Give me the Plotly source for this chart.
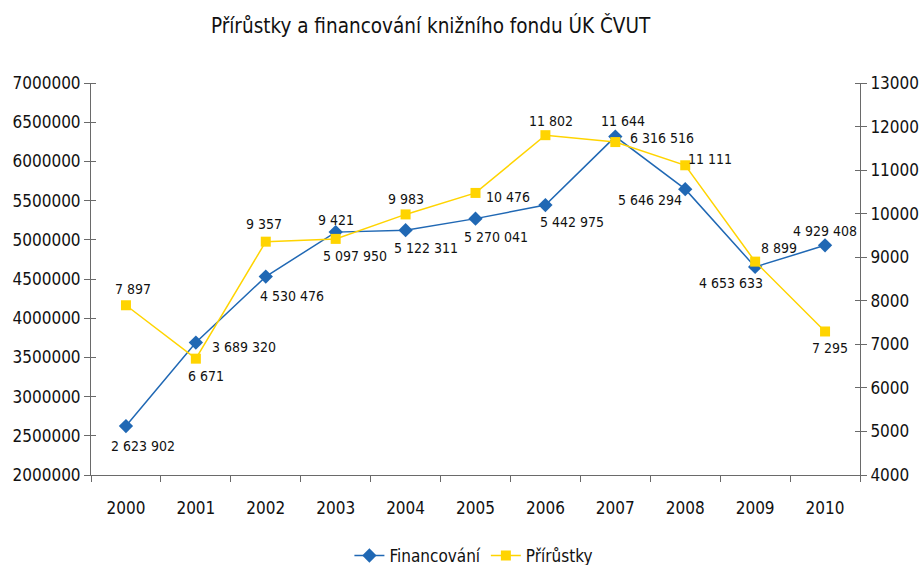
import plotly.graph_objects as go

years = ["2000", "2001", "2002", "2003", "2004", "2005", "2006", "2007", "2008", "2009", "2010"]
financovani = [2623902, 3689320, 4530476, 5097950, 5122311, 5270041, 5442975, 6316516, 5646294, 4653633, 4929408]
prirustky = [7897, 6671, 9357, 9421, 9983, 10476, 11802, 11644, 11111, 8899, 7295]

# label offsets (pixels, from marker to label centre; +dy = downwards)
fin_dx = [17, 48, 26, 19, 20, 20, 27, 47, -35, -24, 0]
fin_dy = [20, 4, 19, 24, 18, 18, 17, 1, 11, 16, -14]
pri_dx = [7, 10, -2, 0, 0, 32, 6, 8, 25, 24, 5]
pri_dy = [-16, 17, -18, -19, -15, 4, -14, -21, -6, -14, 17]

def fmt(v):
    return f"{v:,}".replace(",", " ")

FONT = "Liberation Sans Narrow, DejaVu Sans Condensed, Arial Narrow, sans-serif"
BLUE = "#2068b4"
YELLOW = "#ffd400"
AXIS = "#6a6a6a"

fig = go.Figure()
fig.add_trace(go.Scatter(
    x=years, y=financovani, name="Financování", mode="lines+markers",
    line=dict(color=BLUE, width=1.5),
    marker=dict(symbol="diamond", size=11, color=BLUE),
    yaxis="y", cliponaxis=False,
))
fig.add_trace(go.Scatter(
    x=years, y=prirustky, name="Přírůstky", mode="lines+markers",
    line=dict(color=YELLOW, width=1.5),
    marker=dict(symbol="square", size=10, color=YELLOW),
    yaxis="y2", cliponaxis=False,
))

# annotations reference categories by their index on the category axis
for i, (v, dx, dy) in enumerate(zip(financovani, fin_dx, fin_dy)):
    fig.add_annotation(x=i, y=v, xref="x", yref="y", text=fmt(v), showarrow=False,
                       xshift=dx, yshift=-dy, font=dict(size=14, color="#111111", family=FONT))
for i, (v, dx, dy) in enumerate(zip(prirustky, pri_dx, pri_dy)):
    fig.add_annotation(x=i, y=v, xref="x", yref="y2", text=fmt(v), showarrow=False,
                       xshift=dx, yshift=-dy, font=dict(size=14, color="#111111", family=FONT))

axis_common = dict(showline=True, linecolor=AXIS, linewidth=1,
                   ticks="outside", ticklen=6, tickcolor=AXIS,
                   showgrid=False, zeroline=False, tickfont=dict(size=17))

fig.update_layout(
    width=922, height=565,
    margin=dict(l=91, r=62, t=83, b=90, autoexpand=False),
    paper_bgcolor="white", plot_bgcolor="white",
    font=dict(family=FONT, size=16, color="#111111"),
    title=dict(text="Přírůstky a financování knižního fondu ÚK ČVUT",
               x=0.467, xanchor="center", y=0.955, yanchor="middle",
               font=dict(size=20.5, family=FONT, color="#111111")),
    xaxis=dict(type="category", categoryorder="array", categoryarray=years,
               range=[-0.5, len(years) - 0.5], autorange=False,
               tickson="boundaries", ticklabelstandoff=18, **axis_common),
    yaxis=dict(range=[2000000, 7000000], dtick=500000, tickformat="d",
               minor=dict(ticks="inside", dtick=500000, ticklen=5, tickcolor=AXIS),
               **axis_common),
    yaxis2=dict(range=[4000, 13000], dtick=1000, tickformat="d", overlaying="y", side="right",
                minor=dict(ticks="inside", dtick=1000, ticklen=5, tickcolor=AXIS),
                **axis_common),
    legend=dict(orientation="h", x=0.514, xanchor="center", xref="container",
                y=0.016, yanchor="middle", yref="container",
                font=dict(size=17)),
    showlegend=True,
)

fig.write_html("out.html", config={"displayModeBar": False},
               post_script="document.body.style.margin='0';")
